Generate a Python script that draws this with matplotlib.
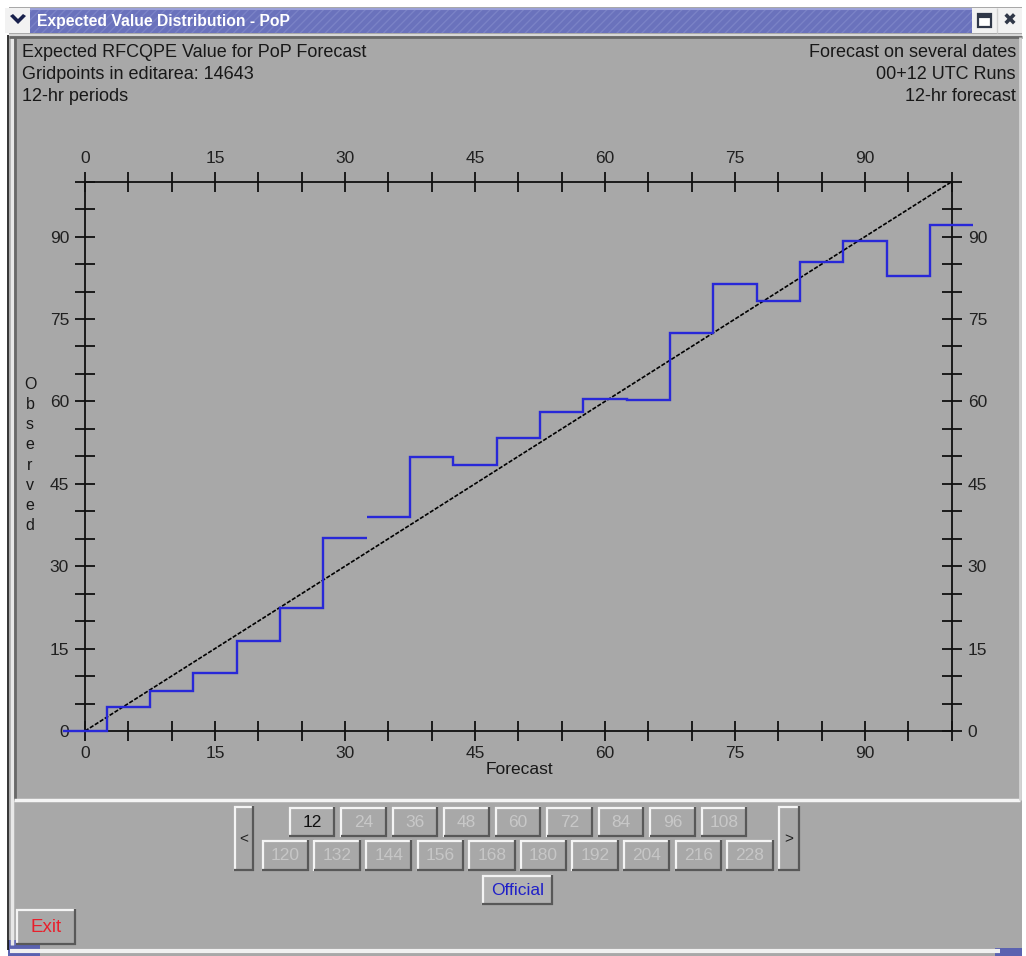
import matplotlib
matplotlib.use("Agg")
import matplotlib.pyplot as plt
from matplotlib.patches import Rectangle, Polygon
from matplotlib.ticker import MultipleLocator
import numpy as np

plt.rcParams['font.family'] = ['Liberation Sans', 'DejaVu Sans']

# ---- data -------------------------------------------------------------
forecast = [0, 5, 10, 15, 20, 25, 30, 35, 40, 45, 50,
            55, 60, 65, 70, 75, 80, 85, 90, 95, 100]
observed = [0.0, 4.4, 7.3, 10.6, 16.3, 22.4, 35.2, 38.9, 49.9, 48.4, 53.4,
            58.1, 60.5, 60.2, 72.4, 81.3, 78.3, 85.3, 89.2, 82.9, 92.2]
break_after = [30]          # curve is not connected after these bins
bin_width = 5
axis_ticks = [0, 15, 30, 45, 60, 75, 90]

header_left = ["Expected RFCQPE Value for PoP Forecast",
               "Gridpoints in editarea: 14643",
               "12-hr periods"]
header_right = ["Forecast on several dates",
                "00+12 UTC Runs",
                "12-hr forecast"]
window_title = "Expected Value Distribution - PoP"
hours_row1 = ["12", "24", "36", "48", "60", "72", "84", "96", "108"]
hours_row2 = ["120", "132", "144", "156", "168", "180", "192", "204", "216", "228"]

# ---- figure -----------------------------------------------------------
W, H = 1026, 956
fig = plt.figure(figsize=(W / 100, H / 100), dpi=100)
fig.patch.set_facecolor('#a8a8a8')

bg = fig.add_axes([0, 0, 1, 1], zorder=0)
bg.set_xlim(0, W)
bg.set_ylim(H, 0)
bg.axis('off')

GRAY = '#a8a8a8'

def rect(x0, y0, x1, y1, fc, ec='none', lw=0, **kw):
    bg.add_patch(Rectangle((x0, y0), x1 - x0, y1 - y0, facecolor=fc,
                           edgecolor=ec, linewidth=lw, **kw))

def hline(x0, x1, y, color, lw=1.0):
    bg.plot([x0, x1], [y, y], color=color, lw=lw, solid_capstyle='butt')

def vline(x, y0, y1, color, lw=1.0):
    bg.plot([x, x], [y0, y1], color=color, lw=lw, solid_capstyle='butt')

def button(x0, y0, x1, y1, label, color='#c6c6c6', face=GRAY, size=12.5):
    rect(x0, y0, x1, y1, face)
    hline(x0, x1, y0 + 0.8, '#f4f4f4', 1.6)
    vline(x0 + 0.8, y0, y1, '#f4f4f4', 1.6)
    hline(x0, x1, y1 - 0.8, '#585858', 1.6)
    vline(x1 - 0.8, y0, y1, '#585858', 1.6)
    bg.text((x0 + x1) / 2, (y0 + y1) / 2 + 0.5, label, ha='center',
            va='center', fontsize=size, color=color)

# window frame
rect(0, 0, W, 7, 'white')
rect(0, 7, 9, H, 'white')
vline(8, 35, 950, '#101010', 1.2)
vline(11.5, 37, 945, '#e8e8e8', 2.5)
rect(1022, 7, W, H, 'white')
hline(10, 1000, 950.5, '#f0f0f0', 3)
rect(8, 940, 40, H, '#5a62b0')
rect(995, 948, 1022, H, '#5a62b0')

# title bar
rect(30, 8, 972, 33, '#6a72bc', ec='#7a82c6', lw=0, hatch='////')
hline(30, 972, 8.5, '#9aa0d8', 1.5)
rect(5, 8, 30, 33, '#f2f2f2')
bg.add_patch(Polygon([[10, 16], [13, 14], [18, 19], [23, 14], [26, 16],
                      [18, 24]], closed=True, facecolor='#18204c'))
bg.text(37, 21, window_title, ha='left', va='center', fontsize=11.3,
        fontweight='bold', color='white')
rect(972, 8, 1022, 33, '#f2f2f2')
vline(997, 8, 33, '#d0d0d0', 1)
rect(978, 14, 991, 27, 'white', ec='#303848', lw=1.6)
hline(978, 991, 16, '#303848', 3)
bg.text(1010, 21, "\u2716", ha='center', va='center', fontsize=12,
        color='#303848', family=['DejaVu Sans'])
hline(9, 1022, 34.5, '#d8d8d8', 1.5)
hline(9, 1022, 36.5, '#686868', 2)

# plot panel outline
vline(14.5, 37, 800, '#686868', 2)
hline(14, 1020, 799.5, '#f4f4f4', 2.5)
vline(1020, 37, 800, '#d4d4d4', 2)

# header texts
for i, s in enumerate(header_left):
    bg.text(22, 52 + 22 * i, s, ha='left', va='center', fontsize=13,
            color='#181818')
for i, s in enumerate(header_right):
    bg.text(1016, 52 + 22 * i, s, ha='right', va='center', fontsize=13,
            color='#181818')

# axis titles
bg.text(519, 770, "Forecast", ha='center', va='center', fontsize=12.5,
        color='#181818')
bg.text(30, 455, "\n".join("Observed"), ha='center', va='center',
        fontsize=11.5, color='#181818', linespacing=1.42)

# forecast-hour selector
button(234, 806, 254, 871, "<", color='#202020', size=11)
button(778, 806, 800, 871, ">", color='#202020', size=11)
row1_left, step1 = 289, 51.5
for i, lab in enumerate(hours_row1):
    x0 = row1_left + i * step1
    button(x0, 807, x0 + 46, 837, lab,
           color='#101010' if i == 0 else '#c8c8c8',
           face='#acacac' if i == 0 else GRAY)
row2_left, step2 = 262, 51.6
for i, lab in enumerate(hours_row2):
    x0 = row2_left + i * step2
    button(x0, 840, x0 + 47, 871, lab)
button(482, 875, 553, 905, "Official", color='#2020c8', face='#b2b2b2')
button(16, 909, 76, 945, "Exit", color='#e8202c', face=GRAY, size=13.5)

# ---- main chart -------------------------------------------------------
ax = fig.add_axes([85 / W, 1 - 731 / H, (951.7 - 85) / W, (731 - 181.7) / H],
                  zorder=1)
ax.set_facecolor('none')
ax.set_xlim(0, 100)
ax.set_ylim(0, 100)

ax.plot([0, 100], [0, 100], color='black', lw=1.2, ls=(0, (2.5, 1)),
        zorder=2)

fc = np.asarray(forecast, dtype=float)
ob = np.asarray(observed, dtype=float)
cuts = [0] + [forecast.index(b) + 1 for b in break_after] + [len(fc)]
for a, b in zip(cuts[:-1], cuts[1:]):
    edges = np.append(fc[a:b] - bin_width / 2, fc[b - 1] + bin_width / 2)
    ax.stairs(ob[a:b], edges, baseline=None, color='#2828d8', lw=1.7,
              clip_on=False, zorder=3)

for sp in ax.spines.values():
    sp.set_linewidth(1.3)
    sp.set_color('#101010')

for axis in (ax.xaxis, ax.yaxis):
    axis.set_major_locator(MultipleLocator(15))
    axis.set_minor_locator(MultipleLocator(5))
ax.set_xticks(axis_ticks)
ax.set_yticks(axis_ticks)
ax.tick_params(which='both', direction='inout', length=15, width=1.3,
               color='#101010', top=True, right=True, labeltop=True,
               labelright=True)
ax.tick_params(which='major', labelsize=12.5, labelcolor='#202020')
ax.tick_params(axis='x', which='major', pad=3.5)
ax.tick_params(axis='y', which='major', pad=4)

fig.savefig("out.png", dpi=100, facecolor=fig.get_facecolor())
